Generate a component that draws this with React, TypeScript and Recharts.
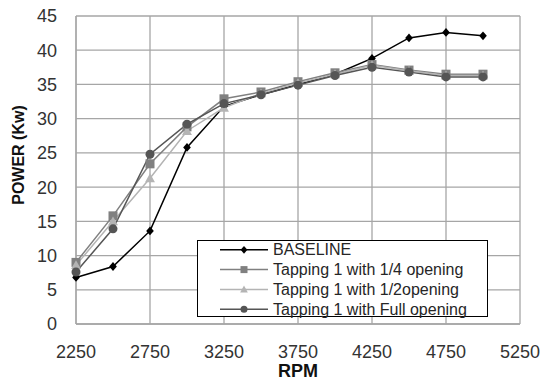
import React from "react";
import {
  LineChart,
  Line,
  XAxis,
  YAxis,
  CartesianGrid,
  Legend,
} from "recharts";

const rpm = [2250, 2500, 2750, 3000, 3250, 3500, 3750, 4000, 4250, 4500, 4750, 5000];
const baseline = [6.8, 8.4, 13.6, 25.8, 31.8, 33.5, 35.0, 36.5, 38.8, 41.8, 42.6, 42.1];
const quarterOpening = [9.0, 15.8, 23.4, 28.8, 32.9, 33.9, 35.4, 36.7, 37.9, 37.1, 36.5, 36.5];
const halfOpening = [8.6, 15.0, 21.3, 28.2, 31.6, 33.7, 35.2, 36.5, 37.8, 37.0, 36.3, 36.3];
const fullOpening = [7.6, 13.9, 24.8, 29.2, 32.2, 33.5, 34.9, 36.3, 37.5, 36.8, 36.1, 36.1];

const xTicks = [2250, 2750, 3250, 3750, 4250, 4750, 5250];
const yTicks = [0, 5, 10, 15, 20, 25, 30, 35, 40, 45];

const data = rpm.map((r, i) => ({
  rpm: r,
  baseline: baseline[i],
  quarter: quarterOpening[i],
  half: halfOpening[i],
  full: fullOpening[i],
}));

const FONT = "'Liberation Sans', Arial, sans-serif";
const GRID = "#a6a6a6";

type Marker = "diamond" | "square" | "triangle" | "circle";

const series: { key: string; name: string; color: string; marker: Marker }[] = [
  { key: "baseline", name: "BASELINE", color: "#000000", marker: "diamond" },
  { key: "quarter", name: "Tapping 1 with 1/4 opening", color: "#808080", marker: "square" },
  { key: "half", name: "Tapping 1 with 1/2opening", color: "#b4b4b4", marker: "triangle" },
  { key: "full", name: "Tapping 1 with Full opening", color: "#555555", marker: "circle" },
];

function drawMarker(marker: Marker, cx: number, cy: number, color: string, s: number, key?: string) {
  if (marker === "diamond") {
    const h = s * 0.55;
    const w = s * 0.48;
    return (
      <path key={key} d={`M${cx},${cy - h}L${cx + w},${cy}L${cx},${cy + h}L${cx - w},${cy}Z`} fill={color} />
    );
  }
  if (marker === "square") {
    return <rect key={key} x={cx - s / 2} y={cy - s / 2} width={s} height={s} fill={color} />;
  }
  if (marker === "triangle") {
    const h = s * 0.55;
    return (
      <path key={key} d={`M${cx},${cy - h}L${cx + h},${cy + h * 0.8}L${cx - h},${cy + h * 0.8}Z`} fill={color} />
    );
  }
  return <circle key={key} cx={cx} cy={cy} r={s / 2} fill={color} />;
}

function makeDot(marker: Marker, color: string, size: number) {
  return (props: any) => {
    const { cx, cy, index } = props;
    if (cx == null || cy == null) return <g key={`e-${index}`} />;
    return drawMarker(marker, cx, cy, color, size, `${marker}-${index}`);
  };
}

function LegendBox() {
  const rowGap = 19.8;
  return (
    <svg width={292} height={78} style={{ display: "block" }}>
      <rect x={0.5} y={0.5} width={290} height={76} fill="#fff" stroke="#000" strokeWidth={1} />
      {series.map((s, i) => {
        const y = 9.8 + i * rowGap;
        return (
          <g key={s.key}>
            <line x1={23} x2={71} y1={y} y2={y} stroke={s.color} strokeWidth={1.5} />
            {drawMarker(s.marker, 47, y, s.color, 7)}
            <text
              x={76}
              y={y}
              dominantBaseline="central"
              fontFamily={FONT}
              fontSize={16}
              fill="#262626"
            >
              {s.name}
            </text>
          </g>
        );
      })}
    </svg>
  );
}

export default function App() {
  return (
    <div style={{ width: 540, height: 381, background: "#fff" }}>
      <style>{"body{margin:0}"}</style>
      <LineChart
        width={540}
        height={381}
        data={data}
        margin={{ top: 16, right: 20, bottom: 0, left: 0 }}
      >
        <CartesianGrid stroke={GRID} strokeWidth={1.3} />
        <XAxis
          dataKey="rpm"
          type="number"
          domain={[2250, 5250]}
          ticks={xTicks}
          interval={0}
          height={57}
          axisLine={{ stroke: GRID, strokeWidth: 1.3 }}
          tickLine={false}
          tickSize={8}
          tickMargin={13}
          tick={{ fontFamily: FONT, fontSize: 18, fill: "#333" }}
          label={{
            value: "RPM",
            position: "insideBottom",
            offset: 4,
            style: { fontFamily: FONT, fontSize: 18, fontWeight: "bold", fill: "#111" },
          }}
        />
        <YAxis
          type="number"
          domain={[0, 45]}
          ticks={yTicks}
          interval={0}
          width={76}
          axisLine={{ stroke: GRID, strokeWidth: 1.3 }}
          tickLine={false}
          tickSize={8}
          tickMargin={11}
          tick={{ fontFamily: FONT, fontSize: 18, fill: "#333" }}
          label={{
            content: (p: any) => {
              const vb = p.viewBox || { x: 0, y: 16, width: 76, height: 308 };
              const cx = 18;
              const cy = vb.y + vb.height / 2 - 15;
              return (
                <text
                  x={cx}
                  y={cy}
                  transform={`rotate(-90 ${cx} ${cy})`}
                  textAnchor="middle"
                  dominantBaseline="central"
                  fontFamily={FONT}
                  fontSize={16}
                  fontWeight="bold"
                  fill="#111"
                >
                  POWER (Kw)
                </text>
              );
            },
          }}
        />
        <Legend
          layout="vertical"
          align="center"
          verticalAlign="middle"
          wrapperStyle={{ position: "absolute", left: 197, top: 240, width: 292, height: 78 }}
          content={() => <LegendBox />}
        />
        {series.map((s) => (
          <Line
            key={s.key}
            dataKey={s.key}
            name={s.name}
            type="linear"
            stroke={s.color}
            strokeWidth={1.5}
            dot={makeDot(s.marker, s.color, s.marker === "diamond" ? 8 : 9)}
            activeDot={false}
            isAnimationActive={false}
          />
        ))}
      </LineChart>
    </div>
  );
}
